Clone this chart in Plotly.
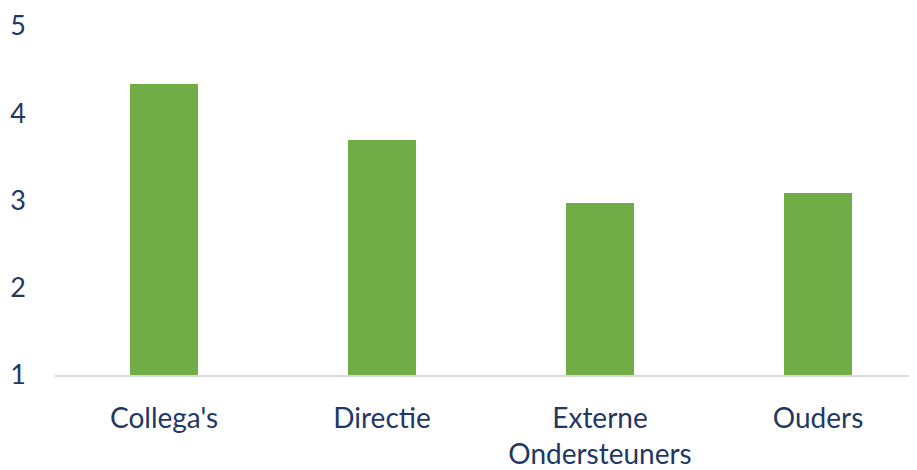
import plotly.graph_objects as go

categories = ["Collega's", "Directie", "Externe<br>Ondersteuners", "Ouders"]
values = [4.33, 3.69, 2.97, 3.09]
y_ticks = [1, 2, 3, 4, 5]

fig = go.Figure(go.Bar(
    x=categories, y=values, base=0,
    marker=dict(color="#70AD47", line=dict(width=0)),
    width=0.315,
))

font = dict(family="Lato, Open Sans, sans-serif", size=28, color="#1F3864")

fig.update_layout(
    width=909, height=462,
    margin=dict(l=47, r=0, t=15, b=93),
    paper_bgcolor="white", plot_bgcolor="white",
    showlegend=False,
    font=font,
    bargap=0,
)
fig.update_xaxes(
    range=[-0.5, 3.454],
    showline=True, linecolor="#D9D9D9", linewidth=2,
    showgrid=False, ticks="", ticklabelstandoff=17,
    tickfont=font, ticklabeloverflow="allow",
)
fig.update_yaxes(
    range=[1, 5], tickvals=y_ticks,
    showgrid=False, zeroline=False, showline=False,
    ticks="", ticklabelstandoff=28, tickfont=dict(font, size=27),
    ticklabeloverflow="allow",
)

fig.write_html("out.html")
